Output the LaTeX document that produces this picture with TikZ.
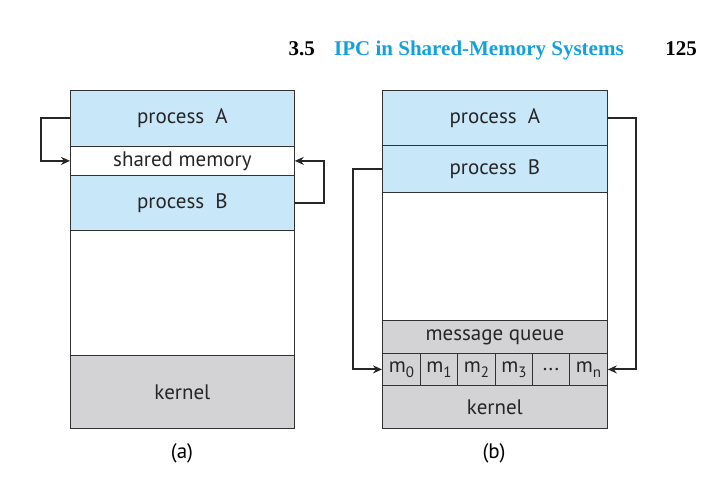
\documentclass[tikz,border=0pt]{standalone}
\usepackage{fontspec}
\setmainfont{Liberation Serif}
\newfontfamily\boxfont{PT Sans}
\usetikzlibrary{arrows.meta}
\definecolor{pblue}{RGB}{200,232,250}
\definecolor{kgray}{RGB}{211,211,213}
\definecolor{edge}{RGB}{50,50,50}
\definecolor{headcyan}{RGB}{20,160,220}
\newcommand{\msub}[1]{m\raisebox{-0.25em}{\fontsize{15}{15}\selectfont #1}}
\begin{document}
\begin{tikzpicture}[x=1pt,y=-1pt,
  blk/.style={draw=edge,line width=0.8pt,inner sep=0pt,anchor=north west,
    font=\boxfont\fontsize{21}{23}\selectfont,text=black!85},
  conn/.style={draw=black!85,line width=2pt,-{Stealth[length=9pt,width=8pt]}},
  lbl/.style={font=\boxfont\fontsize{21}{23}\selectfont}]
\useasboundingbox (0,0) rectangle (722,484);
% header
\node[anchor=base east,inner sep=0pt,font=\bfseries\fontsize{21}{23}\selectfont] (hnum) at (315,56) {3.5};
\node[anchor=base west,inner sep=0pt,font=\bfseries\fontsize{21}{23}\selectfont,text=headcyan] (htitle) at (334,56) {IPC in Shared-Memory Systems};
\node[anchor=base east,inner sep=0pt,font=\bfseries\fontsize{21}{23}\selectfont] (hpage) at (697,56) {125};
% (a)
\node[blk,fill=pblue,minimum width=224pt,minimum height=56pt] (aA) at (70,90) {process\ \ A};
\node[blk,fill=white,minimum width=224pt,minimum height=29pt] (aS) at (70,146) {shared memory};
\node[blk,fill=pblue,minimum width=224pt,minimum height=55pt] (aB) at (70,175) {process\ \ B};
\node[blk,fill=white,minimum width=224pt,minimum height=125pt] (aF) at (70,230) {};
\node[blk,fill=kgray,minimum width=224pt,minimum height=73pt] (aK) at (70,355) {kernel};
\node[lbl] (la) at (182,453) {(a)};
\draw[conn] (aA.west) -- ++(-29,0) |- (aS.west);
\draw[conn] (aB.east) -- ++(29,0) |- (aS.east);
% (b)
\node[blk,fill=pblue,minimum width=225pt,minimum height=55pt] (bA) at (382,90) {process\ \ A};
\node[blk,fill=pblue,minimum width=225pt,minimum height=47pt] (bB) at (382,145) {process\ \ B};
\node[blk,fill=white,minimum width=225pt,minimum height=128pt] (bF) at (382,192) {};
\node[blk,fill=kgray,minimum width=225pt,minimum height=33pt] (bQ) at (382,320) {message queue};
\node[blk,fill=kgray,minimum width=38pt,minimum height=32pt] (m0) at (382,353) {\msub{0}};
\node[blk,fill=kgray,minimum width=37pt,minimum height=32pt] (m1) at (420,353) {\msub{1}};
\node[blk,fill=kgray,minimum width=38pt,minimum height=32pt] (m2) at (457,353) {\msub{2}};
\node[blk,fill=kgray,minimum width=37pt,minimum height=32pt] (m3) at (495,353) {\msub{3}};
\node[blk,fill=kgray,minimum width=37pt,minimum height=32pt] (mdots) at (532,353) {...};
\node[blk,fill=kgray,minimum width=38pt,minimum height=32pt] (mn) at (569,353) {\msub{n}};
\node[blk,fill=kgray,minimum width=225pt,minimum height=43pt] (bK) at (382,385) {kernel};
\node[lbl] (lb) at (494,453) {(b)};
\draw[conn] (bB.west) -- ++(-29,0) |- (m0.west);
\draw[conn] (bA.east) -- ++(28,0) |- (mn.east);
\end{tikzpicture}
\end{document}
